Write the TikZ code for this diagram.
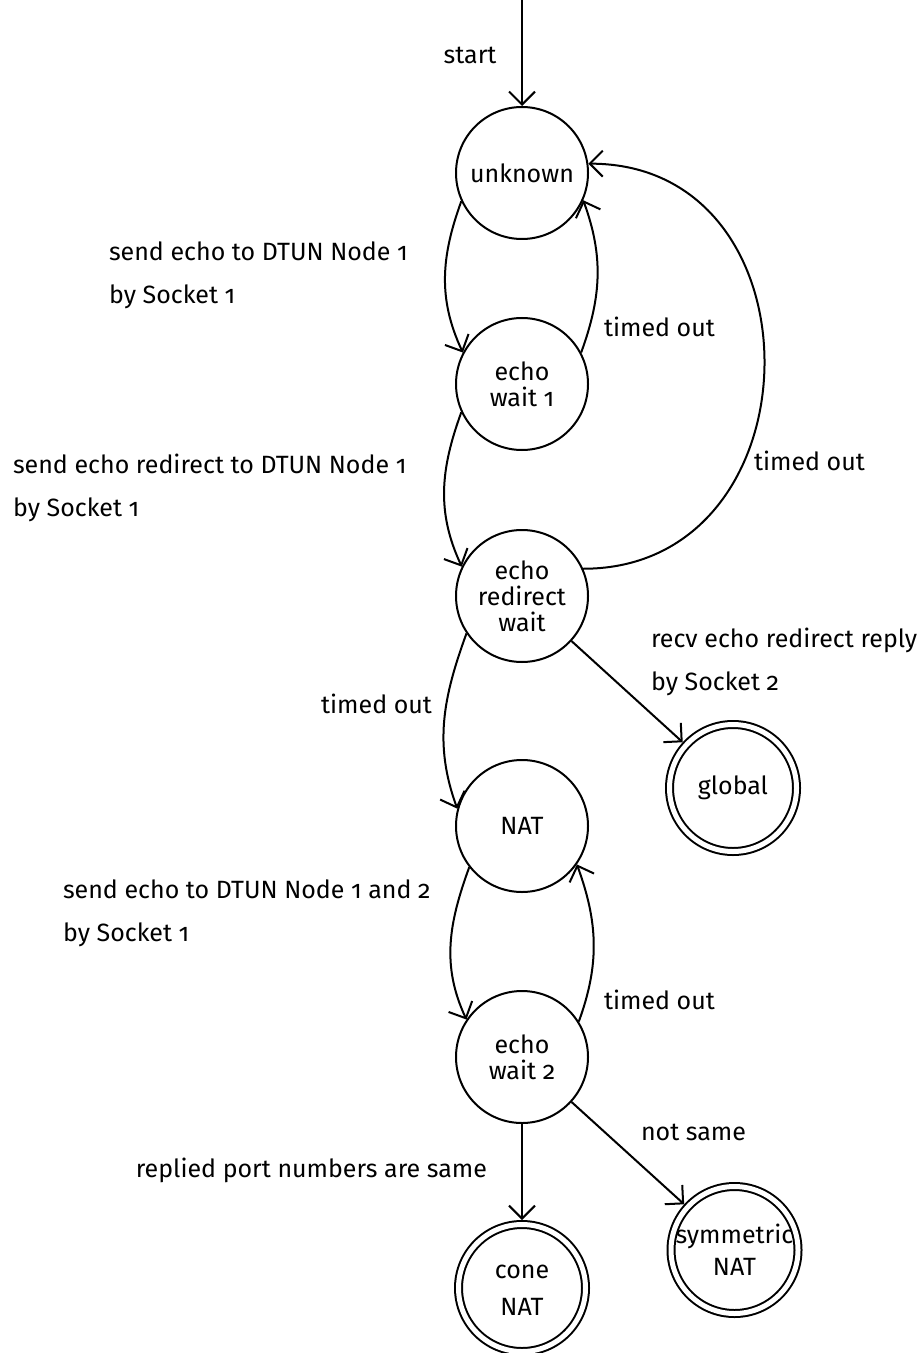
\documentclass[tikz,border=0pt]{standalone}
\usepackage{fontspec}
\setmainfont{Fira Sans}[Numbers=OldStyle]
\usetikzlibrary{arrows.meta}
\begin{document}
\begin{tikzpicture}[x=0.5pt,y=-0.5pt,
  line width=1pt,
  every node/.style={font=\fontsize{12.5}{13}\selectfont},
  state/.style={circle, draw, minimum size=66pt, inner sep=0pt, outer sep=0.5pt},
  accept/.style={circle, draw, double, double distance=2.5pt,
    minimum size=63.5pt, inner sep=0pt, outer sep=2.25pt},
  inside/.style={align=center, inner sep=0pt},
  lbl/.style={inner sep=0pt, align=left, font=\fontsize{12.5}{21.5}\selectfont},
  trans/.style={-{Straight Barb[length=6.5pt,width=13pt]}},
]
\useasboundingbox (0,0) rectangle (920,1353);

% states
\node[state, label={[inside]center:unknown}] (unknown) at (522,173) {};
\node[state, label={[inside]center:echo\\wait 1}] (ew1) at (522,384) {};
\node[state, label={[inside]center:echo\\redirect\\wait}] (redirect) at (522,596) {};
\node[state, label={[inside]center:NAT}] (nat) at (522,826) {};
\node[state, label={[inside]center:echo\\wait 2}] (ew2) at (522,1057) {};
\node[accept, label={[inside]center:global}] (global) at (733,788) {};
\node[accept, label={[inside, font=\fontsize{12.5}{18.5}\selectfont, yshift=-1pt]center:cone\\NAT}] (cone) at (522,1288) {};
\node[accept, label={[inside, font=\fontsize{12.5}{16}\selectfont]center:symmetric\\NAT}] (sym) at (734.5,1250) {};

% initial arrow
\coordinate (s0) at (522,0);
\draw[trans] (s0) -- (unknown);
\node[lbl] (lstart) at (470,55) {start};

% transitions
\draw[trans] (unknown.205) to[out=250,in=115] (ew1.152);
\draw[trans] (ew1.28) to[out=70,in=-70] (unknown.336);
\draw[trans] (ew1.205) to[out=250,in=115] (redirect.154);
\draw[trans] (redirect.24) to[out=0,in=0,looseness=1.5] (unknown.8);
\draw[trans] (redirect) -- (global);
\draw[trans] (redirect.214) to[out=250,in=110] (nat.165);
\draw[trans] (nat.218) to[out=250,in=115] (ew2.146);
\draw[trans] (ew2.32) to[out=70,in=-70] (nat.325);
\draw[trans] (ew2) -- (cone);
\draw[trans] (ew2) -- (sym);

% transition labels
\node[lbl, anchor=west] (l1) at (108,275.5) {send echo to DTUN Node 1\\by Socket 1};
\node[lbl, anchor=west] (l2) at (603,327) {timed out};
\node[lbl, anchor=west] (l3) at (12,487.5) {send echo redirect to DTUN Node 1\\by Socket 1};
\node[lbl, anchor=west] (l4) at (753,461) {timed out};
\node[lbl, anchor=west] (l5) at (650,661.5) {recv echo redirect reply\\by Socket 2};
\node[lbl, anchor=east] (l6) at (433,704) {timed out};
\node[lbl, anchor=west] (l7) at (62,913) {send echo to DTUN Node 1 and 2\\by Socket 1};
\node[lbl, anchor=west] (l8) at (603,1000) {timed out};
\node[lbl, anchor=east] (l9) at (488,1170) {replied port numbers are same};
\node[lbl, anchor=west] (l10) at (640,1132) {not same};
\end{tikzpicture}
\end{document}
